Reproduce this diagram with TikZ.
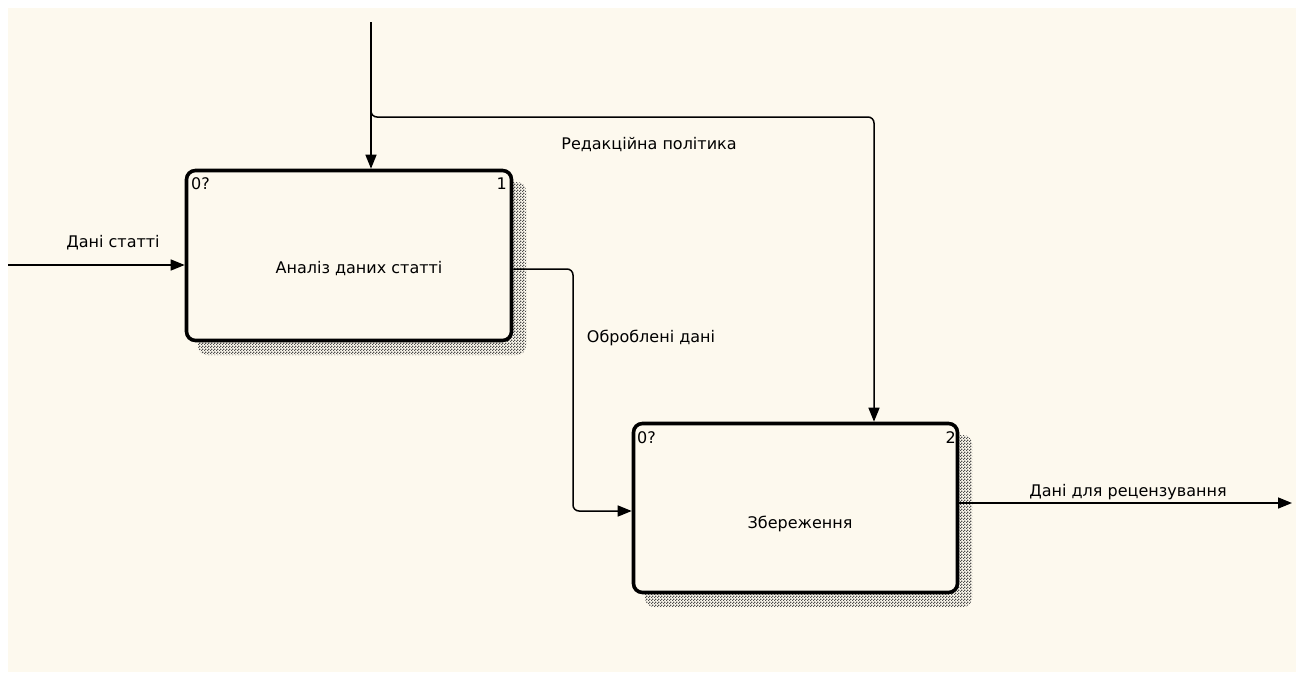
\documentclass[tikz,border=0pt]{standalone}
\usepackage{fontspec}
\setmainfont{DejaVu Sans}
\usetikzlibrary{arrows.meta,patterns}
\definecolor{paper}{HTML}{FDF9EE}
% checkerboard fill used for the box shadows
\pgfdeclarepatternformonly{checkershade}{\pgfpointorigin}{\pgfpoint{3pt}{3pt}}{\pgfpoint{3pt}{3pt}}{%
  \pgfpathrectangle{\pgfpointorigin}{\pgfpoint{1.5pt}{1.5pt}}%
  \pgfpathrectangle{\pgfpoint{1.5pt}{1.5pt}}{\pgfpoint{1.5pt}{1.5pt}}%
  \pgfusepath{fill}}
\begin{document}
\begin{tikzpicture}[x=1pt,y=-1pt,
  font=\fontsize{16}{19}\selectfont,
  fn/.style={draw=black, line width=3.6pt, rounded corners=9pt, fill=paper, inner sep=0pt},
  shadowbox/.style={pattern=checkershade, pattern color=black!70, rounded corners=9pt},
  flow/.style={line width=1.5pt, -{Triangle[length=14pt,width=11pt]}, rounded corners=6pt},
  lbl/.style={inner sep=0pt},
  tag/.style={inner sep=0pt}]
% page and drawing area
\fill[white] (0,0) rectangle (1304,675);
\fill[paper] (8,8) rectangle (1296,672);
\useasboundingbox (0,0) rectangle (1304,675);

% drop shadows of the activity boxes
\fill[shadowbox] (198,182) rectangle (526,355);
\fill[shadowbox] (645,435) rectangle (972,607);

% activity boxes
\node[fn, minimum width=325pt, minimum height=170pt] (f1) at (349,255.5) {};
\node[fn, minimum width=324pt, minimum height=169pt] (f2) at (795.5,508) {};

\node[lbl] (t1) at (359,269) {Аналіз даних статті};
\node[lbl] (t2) at (800,524) {Збереження};

\node[tag, anchor=west] (f1node) at (191,184) {0?};
\node[tag, anchor=east] (f1num) at (507,184) {1};
\node[tag, anchor=west] (f2node) at (637,438) {0?};
\node[tag, anchor=east] (f2num) at (956,438) {2};

% connector end and bend points
\coordinate (inL) at (8,265);
\coordinate (ctop) at (371,22);
\coordinate (fork0) at (371,110);
\coordinate (fork) at (371,117);
\coordinate (cturn) at (874,117);
\coordinate (b1) at (573,269);
\coordinate (b2) at (573,511);
\coordinate (outR) at (1292,503);

% arrows
\draw[flow] (inL) -- (f1.west |- inL);
\draw[flow] (ctop) -- (ctop |- f1.north);
\draw[flow] (fork0) -- (fork) -- (cturn) -- (cturn |- f2.north);
\draw[flow] (f1.east |- b1) -- (b1) -- (b2) -- (f2.west |- b2);
\draw[flow] (f2.east |- outR) -- (outR);

% arrow labels
\node[lbl] (l1) at (113,243) {Дані статті};
\node[lbl] (l2) at (649,145) {Редакційна політика};
\node[lbl] (l3) at (651,338) {Оброблені дані};
\node[lbl] (l4) at (1128,492) {Дані для рецензування};
\end{tikzpicture}
\end{document}
